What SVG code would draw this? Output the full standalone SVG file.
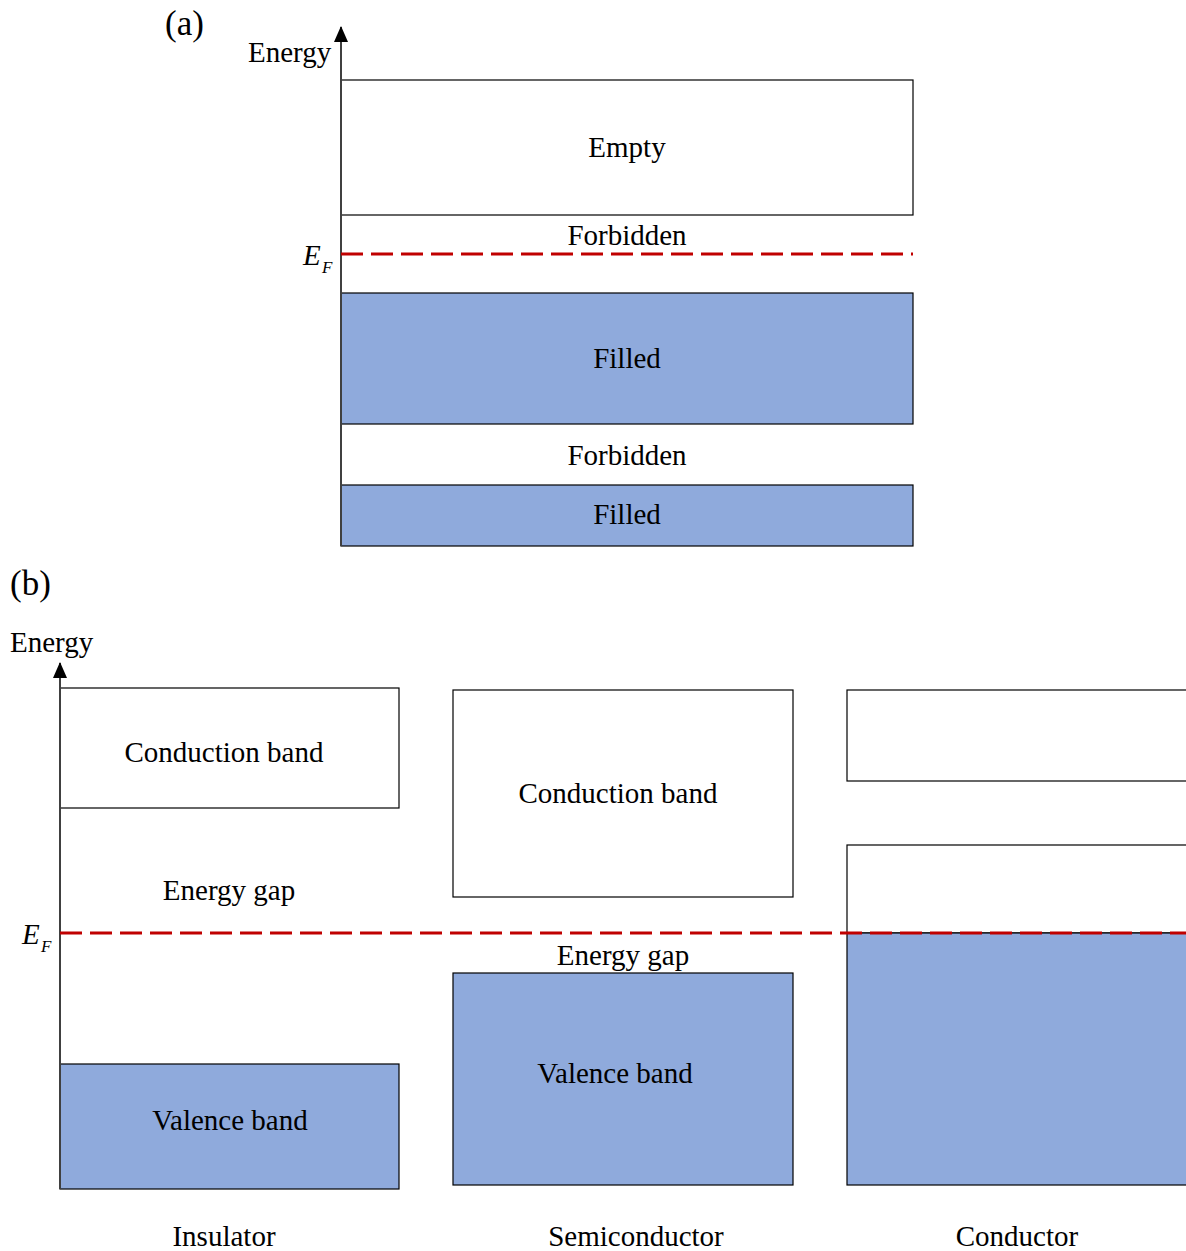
<svg xmlns="http://www.w3.org/2000/svg" width="1186" height="1251" viewBox="0 0 1186 1251">
<defs>
<style>
text{font-family:"Liberation Serif","Times New Roman",serif;font-size:29px;fill:#000}
.c{text-anchor:middle}
.lab{font-size:35px}
.box{fill:#fff;stroke:#000;stroke-width:1.2}
.fill{fill:#8faadc;stroke:#000;stroke-width:1.2}
.axis{stroke:#404040;stroke-width:2;fill:none}
.ef{stroke:#c00000;stroke-width:3;stroke-dasharray:22 8;fill:none}
.it{font-style:italic}
</style>
<marker id="arr" markerWidth="16" markerHeight="14" refX="15" refY="7" orient="auto" markerUnits="userSpaceOnUse" viewBox="0 0 16 14">
<path d="M0,0 L16,7 L0,14 Z" fill="#000"/>
</marker>
</defs>
<rect width="1186" height="1251" fill="#fff"/>
<g id="panel-a">
<text class="lab" x="165" y="35">(a)</text>
<text x="248" y="62">Energy</text>
<g id="a-empty"><rect class="box" x="341" y="80" width="572" height="135"/><text class="c" x="627" y="157">Empty</text></g>
<text class="c" x="627" y="245">Forbidden</text>
<g id="a-filled1"><rect class="fill" x="341" y="293" width="572" height="131"/><text class="c" x="627" y="368">Filled</text></g>
<text class="c" x="627" y="465">Forbidden</text>
<g id="a-filled2"><rect class="fill" x="341" y="485" width="572" height="61"/><text class="c" x="627" y="524">Filled</text></g>
<g id="a-ef-label"><text class="it" x="303" y="265">E</text><text class="it" x="322" y="273" style="font-size:17px">F</text></g>
</g>
<g id="panel-b">
<text class="lab" x="10" y="595">(b)</text>
<text x="10" y="652">Energy</text>
<g id="ins-cond"><rect class="box" x="60" y="688" width="339" height="120"/><text class="c" x="224" y="762">Conduction band</text></g>
<text class="c" x="229" y="900">Energy gap</text>
<g id="ins-val"><rect class="fill" x="60" y="1064" width="339" height="125"/><text class="c" x="230" y="1130">Valence band</text></g>
<g id="semi-cond"><rect class="box" x="453" y="690" width="340" height="207"/><text class="c" x="618" y="803">Conduction band</text></g>
<g id="semi-val"><rect class="fill" x="453" y="973" width="340" height="212"/><text class="c" x="615" y="1083">Valence band</text></g>
<g id="cond-top"><rect class="box" x="847" y="690" width="345" height="91"/></g>
<g id="cond-band"><rect class="box" x="847" y="845" width="345" height="88"/><rect class="fill" x="847" y="933" width="345" height="252"/></g>
<text class="c" x="623" y="965">Energy gap</text>
<g id="b-ef-label"><text class="it" x="22" y="944">E</text><text class="it" x="41" y="952" style="font-size:17px">F</text></g>
<text class="c" x="224" y="1246">Insulator</text>
<text class="c" x="636" y="1246">Semiconductor</text>
<text class="c" x="1017" y="1246">Conductor</text>
</g>
<g id="connectors">
<line class="axis" x1="341" y1="546" x2="341" y2="27" marker-end="url(#arr)"/>
<line class="ef" x1="341" y1="254" x2="913" y2="254"/>
<line class="axis" x1="60" y1="1189" x2="60" y2="663" marker-end="url(#arr)"/>
<line class="ef" x1="60" y1="933" x2="1186" y2="933"/>
</g>
</svg>
